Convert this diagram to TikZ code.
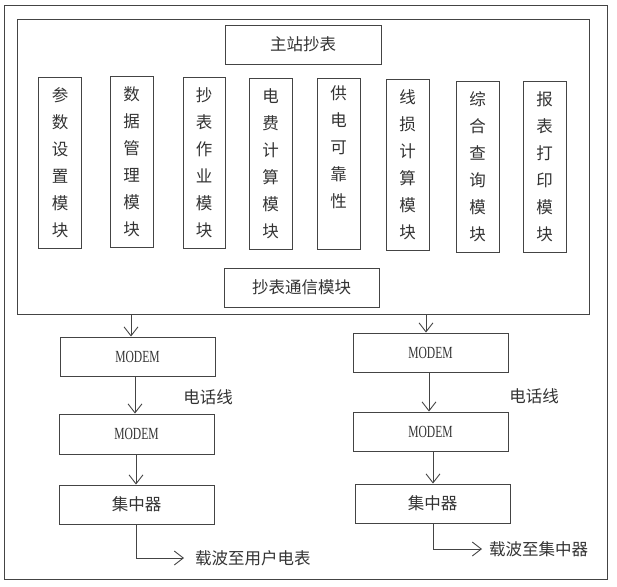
\documentclass[tikz,border=0pt]{standalone}
\usepackage{fontspec}
\setmainfont{Liberation Serif}
\newfontfamily\cjk{Noto Sans CJK SC}
\newfontfamily\modemfont[FakeStretch=0.68]{Liberation Serif}
\usetikzlibrary{arrows.meta}
\definecolor{ln}{HTML}{444444}
\definecolor{tx}{HTML}{333333}
\tikzset{
  box/.style={draw=ln, line width=0.9pt, inner sep=0pt, text=tx, font=\cjk\fontsize{16.5}{27}\selectfont, align=center},
  vbox/.style={box, minimum width=43pt, minimum height=171pt},
  hbox/.style={box, minimum width=155pt, minimum height=39pt},
  mbox/.style={hbox, font=\modemfont\fontsize{17}{18}\selectfont},
  lbl/.style={text=tx, inner sep=0pt, font=\cjk\fontsize{16.5}{20}\selectfont},
  arr/.style={draw=ln, line width=0.9pt, -{Straight Barb[length=9pt,width=14pt,line width=0.9pt]}},
  frame/.style={draw=ln, line width=1pt, inner sep=0pt}
}
\begin{document}
\begin{tikzpicture}[x=1pt,y=-1pt]
\useasboundingbox (0,0) rectangle (617,586);
% frames
\node[frame, minimum width=603pt, minimum height=573pt] (outer) at (305.5,292.5) {};
\node[frame, minimum width=572pt, minimum height=294pt] (inner) at (303,167) {};
% top boxes
\node[hbox, minimum width=156pt] (title) at (303,44.5) {主站抄表};
\node[vbox] (v1) at (60,162.5) {参\\数\\设\\置\\模\\块};
\node[vbox] (v2) at (131.5,162) {数\\据\\管\\理\\模\\块};
\node[vbox, minimum width=42pt] (v3) at (204,163) {抄\\表\\作\\业\\模\\块};
\node[vbox] (v4) at (270.5,163.5) {电\\费\\计\\算\\模\\块};
\node[vbox] (v5) at (338.5,164) {供\\电\\可\\靠\\性\\\strut};
\node[vbox] (v6) at (407.5,165) {线\\损\\计\\算\\模\\块};
\node[vbox] (v7) at (477.5,167) {综\\合\\查\\询\\模\\块};
\node[vbox] (v8) at (544.5,166.5) {报\\表\\打\\印\\模\\块};
\node[hbox] (comm) at (301.5,287.5) {抄表通信模块};
% left chain
\node[mbox] (lm1) at (137.5,356.5) {MODEM};
\node[mbox, minimum height=40pt] (lm2) at (136.5,434) {MODEM};
\node[hbox] (lc) at (136.5,504.5) {集中器};
\node[lbl] (lt) at (208,397) {电话线};
\node[lbl, anchor=west] (lo) at (195,558) {载波至用户电表};
% right chain
\node[mbox] (rm1) at (430.5,352.5) {MODEM};
\node[mbox] (rm2) at (430.5,431.5) {MODEM};
\node[hbox] (rc) at (432.5,503.5) {集中器};
\node[lbl] (rt) at (534,396) {电话线};
\node[lbl, anchor=west] (ro) at (489,549) {载波至集中器};
% connectors
\coordinate (la) at (131,0);
\draw[arr] (inner.south -| la) -- (lm1.north -| la);
\coordinate (lb) at (135,0);
\draw[arr] (lm1.south -| lb) -- (lm2.north -| lb);
\coordinate (lcx) at (136,0);
\draw[arr] (lm2.south -| lcx) -- (lc.north -| lcx);
\draw[arr] (lc.south -| lcx) |- ([xshift=-11pt]lo.west);
\coordinate (ra) at (426,0);
\draw[arr] (inner.south -| ra) -- (rm1.north -| ra);
\coordinate (rb) at (429,0);
\draw[arr] (rm1.south -| rb) -- (rm2.north -| rb);
\coordinate (rcx) at (433,0);
\draw[arr] (rm2.south -| rcx) -- (rc.north -| rcx);
\draw[arr] (rc.south -| rcx) |- ([xshift=-7pt]ro.west);
\end{tikzpicture}
\end{document}
